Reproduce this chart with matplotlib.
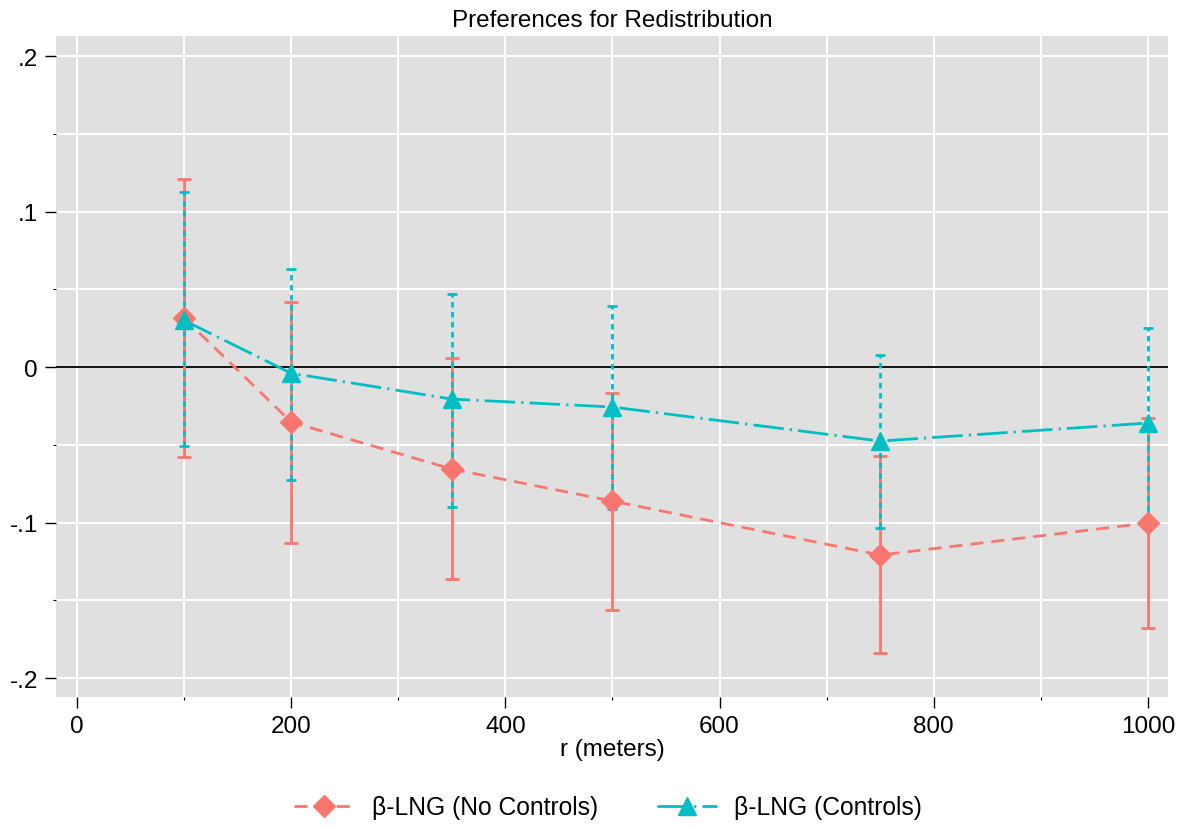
import matplotlib
matplotlib.use('Agg')
import matplotlib.pyplot as plt
from matplotlib.ticker import MultipleLocator
from matplotlib.lines import Line2D

plt.rcParams['font.family'] = ['Liberation Sans', 'DejaVu Sans']

# ---- data ----
r = [100, 200, 350, 500, 750, 1000]
nc_coef = [0.0315, -0.0354, -0.0656, -0.0862, -0.1209, -0.1003]
nc_lo = [-0.058, -0.113, -0.1363, -0.1563, -0.184, -0.1678]
nc_hi = [0.121, 0.0418, 0.0058, -0.0167, -0.0572, -0.0328]
c_coef = [0.030, -0.004, -0.0206, -0.0257, -0.0476, -0.036]
c_lo = [-0.0508, -0.0727, -0.090, -0.0913, -0.1035, -0.099]
c_hi = [0.1125, 0.063, 0.047, 0.0392, 0.0077, 0.025]
yticks = [-0.2, -0.1, 0.0, 0.1, 0.2]
ytick_labels = ['-.2', '-.1', '0', '.1', '.2']
xticks = [0, 200, 400, 600, 800, 1000]
labels = ['\u03b2-LNG (No Controls)', '\u03b2-LNG (Controls)']
title = 'Preferences for Redistribution'
xlabel = 'r (meters)'

RED = '#F8766D'
CYAN = '#00BFC4'
LW = 2.0
RED_DASH = (4.7, 2.9)
CYAN_DASH = (11, 2.2, 0.8, 2.2)

fig = plt.figure(figsize=(11.83, 8.29), dpi=100)
ax = fig.add_axes([56/1183, 1-698/829, (1168-56)/1183, (698-37)/829])
ax.set_facecolor('#E0E0E0')
for s in ax.spines.values():
    s.set_visible(False)

ax.set_xlim(-19.6, 1018.7)
ax.set_ylim(-0.2122, 0.2129)
ax.set_xticks(xticks)
ax.xaxis.set_minor_locator(MultipleLocator(100))
ax.set_yticks(yticks)
ax.set_yticklabels(ytick_labels)
ax.yaxis.set_minor_locator(MultipleLocator(0.05))
ax.grid(True, which='both', color='white', linewidth=1.4)
ax.set_axisbelow(True)
ax.tick_params(axis='both', which='major', length=8, width=1.0, labelsize=17.5, pad=5, color='black')
ax.tick_params(axis='both', which='minor', length=2.5, width=0.8, color='black')

ax.axhline(0, color='black', linewidth=1.3, zorder=2)

# No controls
nc_err = [[c - l for c, l in zip(nc_coef, nc_lo)], [h - c for c, h in zip(nc_coef, nc_hi)]]
eb1 = ax.errorbar(r, nc_coef, yerr=nc_err, fmt='none', ecolor=RED, elinewidth=LW,
                  capsize=4.7, capthick=LW, zorder=3)
ax.plot(r, nc_coef, color=RED, linewidth=LW, dashes=RED_DASH, zorder=3)
ax.plot(r, nc_coef, linestyle='none', marker='D', markersize=11, color=RED, zorder=5)

# Controls
c_err = [[c - l for c, l in zip(c_coef, c_lo)], [h - c for c, h in zip(c_coef, c_hi)]]
eb2 = ax.errorbar(r, c_coef, yerr=c_err, fmt='none', ecolor=CYAN, elinewidth=LW,
                  capsize=3.5, capthick=LW, zorder=4)
for col in eb2[2]:
    col.set_linestyle((0, (2.0, 1.6)))
ax.plot(r, c_coef, color=CYAN, linewidth=LW, dashes=CYAN_DASH, zorder=4)
ax.plot(r, c_coef, linestyle='none', marker='^', markersize=13, color=CYAN, zorder=6)

ax.set_title(title, fontsize=17.5, pad=7)
ax.set_xlabel(xlabel, fontsize=17.5, labelpad=1)

h1 = Line2D([], [], color=RED, linewidth=LW, dashes=RED_DASH, marker='D', markersize=11)
h2 = Line2D([], [], color=CYAN, linewidth=LW, dashes=CYAN_DASH, marker='^', markersize=13)
fig.legend([h1, h2], labels, loc='center', bbox_to_anchor=(0.514, 0.025), ncol=2,
           frameon=False, fontsize=17.7, handlelength=2.45, handletextpad=0.7,
           columnspacing=2.4, numpoints=1)

fig.savefig('out.png', dpi=100)
